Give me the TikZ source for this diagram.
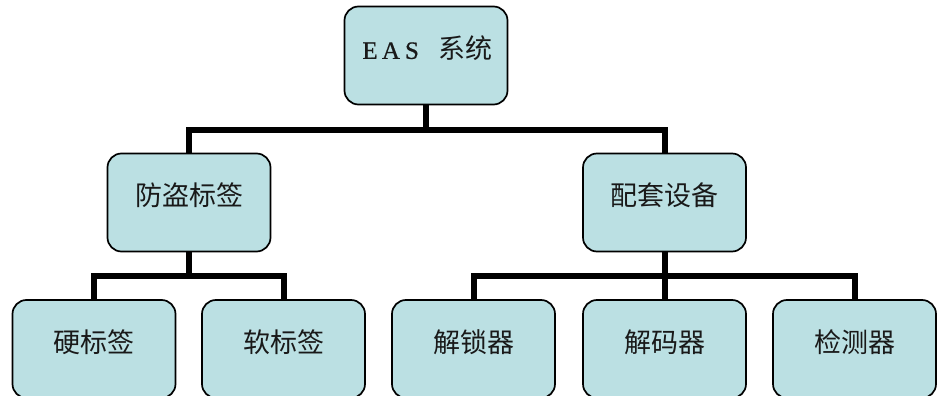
\documentclass[tikz,border=0pt]{standalone}
\usepackage{fontspec}
\setmainfont{Liberation Serif}
\newfontfamily\cjk{Noto Sans CJK SC}
\newfontfamily\latn[FakeBold=0.6]{Liberation Serif}
\definecolor{boxfill}{HTML}{BBE0E3}
\begin{document}
\begin{tikzpicture}[x=1pt,y=-1pt,
  box/.style={draw=black, line width=1.7pt, fill=boxfill, rounded corners=14pt, minimum width=163pt, minimum height=98pt, inner sep=0pt},
  txt/.style={font=\cjk\fontsize{27}{30}\selectfont, text=black!90, inner sep=0pt, yshift=7pt},
  conn/.style={line width=6pt, line join=miter}]
\useasboundingbox (0,0) rectangle (938,396);
\clip (0,0) rectangle (938,396);
% boxes
\node[box] (eas) at (426,55.5) {};
\node[box] (fd) at (189,202.5) {};
\node[box] (pt) at (664.5,202.5) {};
\node[box] (yb) at (94,349) {};
\node[box] (rb) at (283.5,349) {};
\node[box] (js) at (473.5,349) {};
\node[box] (jm) at (664.5,349) {};
\node[box] (jc) at (854.5,349) {};
% texts
\node[txt] (easT) at (eas.center) {\latn\fontsize{25}{28}\selectfont\makebox[21pt]{E}\makebox[21pt]{A}\makebox[21pt]{S}\hspace{16pt}\cjk\fontsize{27}{30}\selectfont 系统};
\node[txt] (fdT) at (fd.center) {防盗标签};
\node[txt] (ptT) at (pt.center) {配套设备};
\node[txt] (ybT) at (yb.center) {硬标签};
\node[txt] (rbT) at (rb.center) {软标签};
\node[txt] (jsT) at (js.center) {解锁器};
\node[txt] (jmT) at (jm.center) {解码器};
\node[txt] (jcT) at (jc.center) {检测器};
% bus coordinates
\coordinate (b1) at (0,130);
\coordinate (b2) at (0,276);
% connectors
\draw[conn] (eas.south) -- (eas.south |- b1);
\draw[conn] (fd.north) -- (fd.north |- b1) -- (pt.north |- b1) -- (pt.north);
\draw[conn] (fd.south) -- (fd.south |- b2);
\draw[conn] (yb.north) -- (yb.north |- b2) -- (rb.north |- b2) -- (rb.north);
\draw[conn] (pt.south) -- (jm.north);
\draw[conn] (js.north) -- (js.north |- b2) -- (jc.north |- b2) -- (jc.north);
\end{tikzpicture}
\end{document}
